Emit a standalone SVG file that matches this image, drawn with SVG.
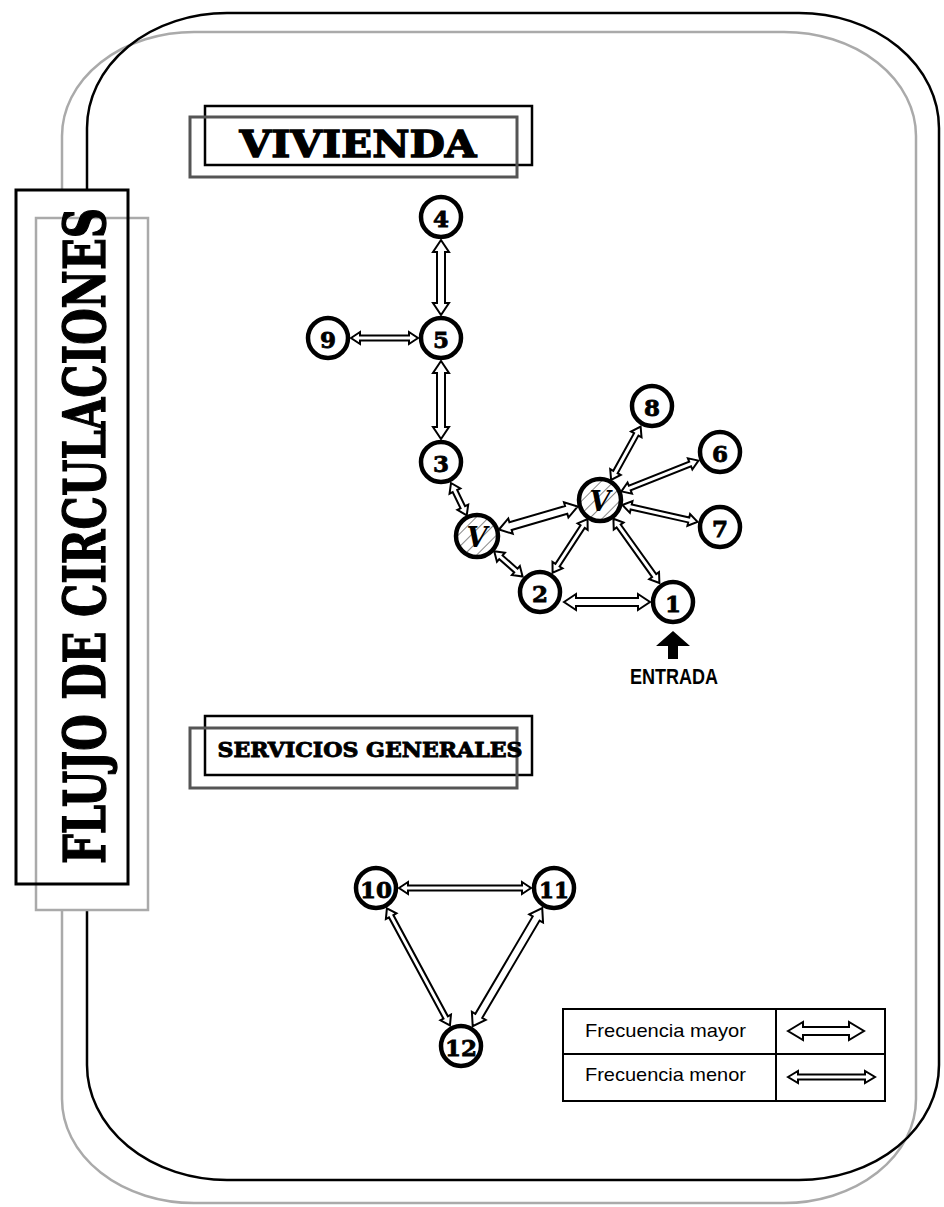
<svg xmlns="http://www.w3.org/2000/svg" width="944" height="1207" viewBox="0 0 944 1207">
<style>
.frame-b{fill:none;stroke:#000;stroke-width:2.5}
.frame-g{fill:none;stroke:#aaa;stroke-width:2.5}
.box-b{fill:none;stroke:#000;stroke-width:2.5}
.box-g{fill:none;stroke:#555;stroke-width:3}
.node circle{fill:#fff;stroke:#000;stroke-width:4.5}
.node .hat{fill:url(#hatch)}
.num{font-family:"DejaVu Serif",serif;font-weight:bold;font-size:23px;text-anchor:middle;dominant-baseline:central;fill:#000;stroke:#000;stroke-width:0.8}
.vtxt{font-family:"DejaVu Serif",serif;font-weight:bold;font-style:italic;font-size:27px;text-anchor:middle;dominant-baseline:central;fill:#000}
.title{font-family:"DejaVu Serif",serif;font-weight:bold;fill:#000;stroke:#000;stroke-width:1.3;text-anchor:middle}
.arr{fill:#fff;stroke:#000;stroke-width:2;stroke-linejoin:miter}
.leg{font-family:"Liberation Sans",Arial,sans-serif;font-size:19px;fill:#000}
</style>
<defs>
<pattern id="hatch" patternUnits="userSpaceOnUse" width="9" height="9" patternTransform="rotate(45)">
<rect width="9" height="9" fill="#fff"/>
<line x1="0" y1="0" x2="0" y2="9" stroke="#888" stroke-width="2"/>
</pattern>
</defs>

<g id="frame">
<rect class="frame-g" x="62" y="32" width="854" height="1171" rx="132" ry="104"/>
<rect class="frame-b" x="87" y="13" width="852" height="1167" rx="140" ry="115"/>
</g>

<g id="title-flujo">
<rect x="16" y="190" width="112" height="694" fill="#fff" stroke="none"/>
<rect x="36" y="218" width="112" height="692" fill="#fff" stroke="none"/>
<rect x="36" y="218" width="112" height="692" fill="none" stroke="#aaa" stroke-width="2.5"/>
<rect x="16" y="190" width="112" height="694" fill="none" stroke="#000" stroke-width="3"/>
<text class="title" font-size="58" transform="translate(105,536) rotate(-90)" textLength="656" lengthAdjust="spacingAndGlyphs">FLUJO DE CIRCULACIONES</text>
</g>

<g id="title-vivienda">
<rect class="box-b" x="205" y="106" width="327" height="59"/>
<rect class="box-g" x="190" y="117" width="327" height="60"/>
<text class="title" x="358" y="157" font-size="38" textLength="237" lengthAdjust="spacingAndGlyphs">VIVIENDA</text>
</g>

<g id="title-servicios">
<rect class="box-b" x="205" y="716" width="327" height="59"/>
<rect class="box-g" x="190" y="728" width="327" height="60"/>
<text class="title" x="370" y="757" font-size="21" textLength="305" lengthAdjust="spacingAndGlyphs" style="stroke-width:0.9">SERVICIOS GENERALES</text>
</g>

<g id="connectors">
<polygon class="arr" transform="translate(441,240) rotate(90)" points="0,0 12,-8 12,-4 63,-4 63,-8 75,0 63,8 63,4 12,4 12,8"/>
<polygon class="arr" transform="translate(441,361) rotate(90)" points="0,0 12,-8 12,-4 66,-4 66,-8 78,0 66,8 66,4 12,4 12,8"/>
<polygon class="arr" transform="translate(351,338)" points="0,0 9,-6 9,-2.5 58,-2.5 58,-6 67,0 58,6 58,2.5 9,2.5 9,6"/>
<polygon class="arr" transform="translate(451,483) rotate(64.1)" points="0,0 9,-6 9,-2.5 27,-2.5 27,-6 36,0 27,6 27,2.5 9,2.5 9,6"/>
<polygon class="arr" transform="translate(499,529.5) rotate(-16.3)" points="0,0 12,-8 12,-4 70,-4 70,-8 82,0 70,8 70,4 12,4 12,8"/>
<polygon class="arr" transform="translate(494.2,551.3) rotate(41.6)" points="0,0 9,-6 9,-2.5 29,-2.5 29,-6 38,0 29,6 29,2.5 9,2.5 9,6"/>
<polygon class="arr" transform="translate(552.6,572.7) rotate(-56.9)" points="0,0 9,-6 9,-2.5 55,-2.5 55,-6 64,0 55,6 55,2.5 9,2.5 9,6"/>
<polygon class="arr" transform="translate(613.4,518.7) rotate(54.4)" points="0,0 9,-6 9,-2.5 70,-2.5 70,-6 79,0 70,6 70,2.5 9,2.5 9,6"/>
<polygon class="arr" transform="translate(564,602)" points="0,0 12,-8 12,-4 74,-4 74,-8 86,0 74,8 74,4 12,4 12,8"/>
<polygon class="arr" transform="translate(611.1,479.9) rotate(-61.05)" points="0,0 9,-6 9,-2.5 52,-2.5 52,-6 61,0 52,6 52,2.5 9,2.5 9,6"/>
<polygon class="arr" transform="translate(621.4,491.4) rotate(-21.8)" points="0,0 9,-6 9,-2.5 74,-2.5 74,-6 83,0 74,6 74,2.5 9,2.5 9,6"/>
<polygon class="arr" transform="translate(622.4,505) rotate(12.7)" points="0,0 9,-6 9,-2.5 68,-2.5 68,-6 77,0 68,6 68,2.5 9,2.5 9,6"/>
<polygon class="arr" transform="translate(399,888)" points="0,0 9,-6 9,-2.5 123,-2.5 123,-6 132,0 123,6 123,2.5 9,2.5 9,6"/>
<polygon class="arr" transform="translate(386.9,908.3) rotate(61.7)" points="0,0 9,-6 9,-2.5 124,-2.5 124,-6 133,0 124,6 124,2.5 9,2.5 9,6"/>
<polygon class="arr" transform="translate(472.7,1026.2) rotate(-59.5)" points="0,0 12,-8 12,-4 125,-4 125,-8 137,0 125,8 125,4 12,4 12,8"/>
</g>

<g id="n4" class="node"><circle cx="441" cy="217" r="20"/><text class="num" x="441" y="218">4</text></g>
<g id="n5" class="node"><circle cx="441" cy="338" r="20"/><text class="num" x="441" y="339">5</text></g>
<g id="n9" class="node"><circle cx="328" cy="338" r="20"/><text class="num" x="328" y="339">9</text></g>
<g id="n3" class="node"><circle cx="441" cy="462" r="20"/><text class="num" x="441" y="463">3</text></g>
<g id="n8" class="node"><circle cx="652" cy="406" r="20"/><text class="num" x="652" y="407">8</text></g>
<g id="n6" class="node"><circle cx="720" cy="452" r="20"/><text class="num" x="720" y="453">6</text></g>
<g id="n7" class="node"><circle cx="720" cy="527" r="20"/><text class="num" x="720" y="528">7</text></g>
<g id="vright" class="node"><circle class="hat" cx="600" cy="500" r="21"/><text class="vtxt" x="600" y="501">V</text></g>
<g id="vleft" class="node"><circle class="hat" cx="477" cy="536" r="21"/><text class="vtxt" x="477" y="537">V</text></g>
<g id="n2" class="node"><circle cx="540" cy="592" r="20"/><text class="num" x="540" y="593">2</text></g>
<g id="n1" class="node"><circle cx="673" cy="602" r="20"/><text class="num" x="673" y="603">1</text></g>
<g id="n10" class="node"><circle cx="376" cy="888" r="20"/><text class="num" x="376" y="889" textLength="32" lengthAdjust="spacingAndGlyphs">10</text></g>
<g id="n11" class="node"><circle cx="554" cy="888" r="20"/><text class="num" x="554" y="889" textLength="30" lengthAdjust="spacingAndGlyphs">11</text></g>
<g id="n12" class="node"><circle cx="461" cy="1046" r="20"/><text class="num" x="461" y="1047" textLength="32" lengthAdjust="spacingAndGlyphs">12</text></g>

<g id="entrada">
<polygon points="673,631 690,646 678,646 678,659 668,659 668,646 656,646" fill="#000"/>
<text x="674" y="684" font-family="Liberation Sans, Arial, sans-serif" font-weight="bold" font-size="22" text-anchor="middle" textLength="88" lengthAdjust="spacingAndGlyphs">ENTRADA</text>
</g>

<g id="legend">
<rect x="563" y="1009" width="322" height="92" fill="#fff" stroke="#000" stroke-width="2"/>
<line x1="563" y1="1054" x2="885" y2="1054" stroke="#000" stroke-width="2"/>
<line x1="776" y1="1009" x2="776" y2="1101" stroke="#000" stroke-width="2"/>
<text class="leg" x="585" y="1037" textLength="161" lengthAdjust="spacingAndGlyphs">Frecuencia mayor</text>
<text class="leg" x="585" y="1081" textLength="161" lengthAdjust="spacingAndGlyphs">Frecuencia menor</text>
<polygon class="arr" transform="translate(788,1031)" points="0,0 15,-9 15,-4 61,-4 61,-9 76,0 61,9 61,4 15,4 15,9"/>
<polygon class="arr" transform="translate(788,1077)" points="0,0 10,-6 10,-2.5 77,-2.5 77,-6 87,0 77,6 77,2.5 10,2.5 10,6"/>
</g>
</svg>
